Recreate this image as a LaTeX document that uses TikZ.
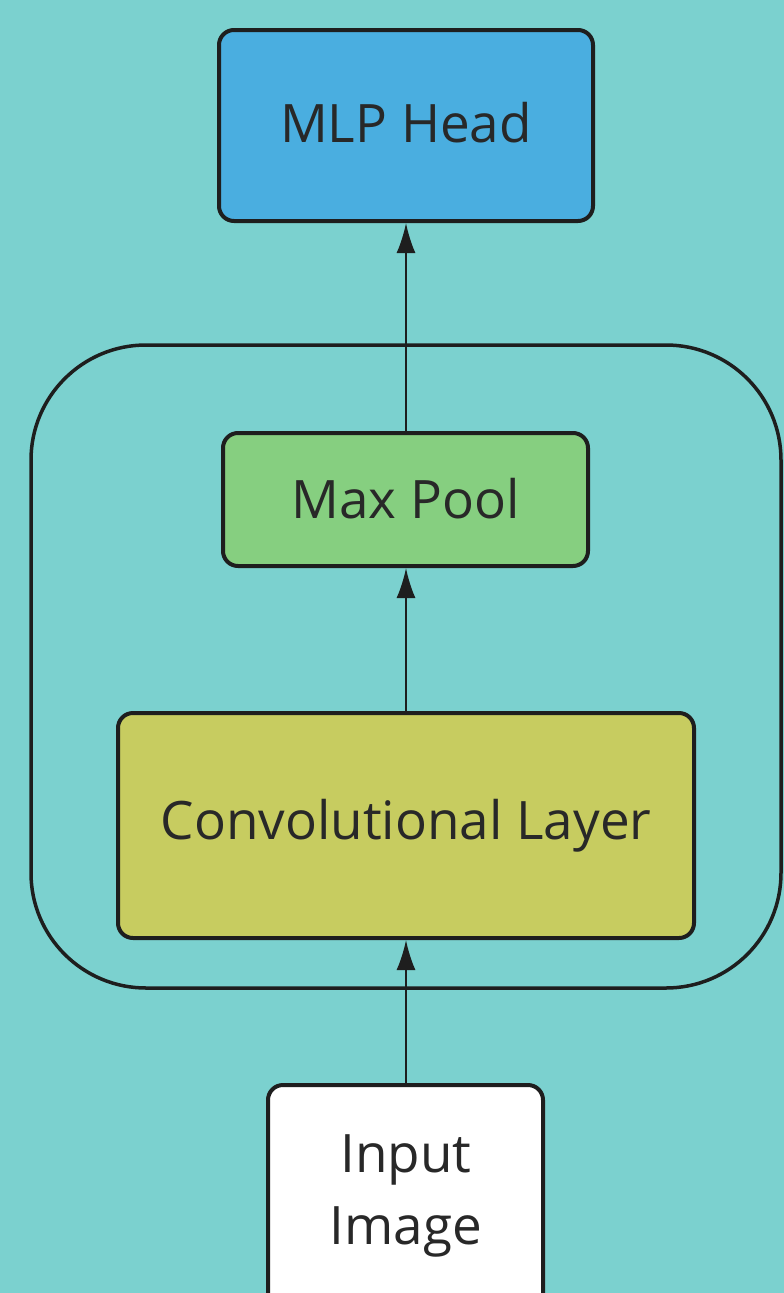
\documentclass[tikz,border=0pt]{standalone}
\usepackage{fontspec}
\setmainfont{Open Sans}
\usetikzlibrary{arrows.meta}
\definecolor{bg}{RGB}{123,209,207}
\definecolor{mlpc}{RGB}{74,174,224}
\definecolor{poolc}{RGB}{134,207,128}
\definecolor{convc}{RGB}{199,204,96}
\definecolor{edge}{RGB}{30,30,30}
\definecolor{txt}{RGB}{40,40,40}
\begin{document}
\begin{tikzpicture}[x=1pt,y=-1pt,
  blk/.style={draw=edge,line width=4pt,rounded corners=15pt},
  lbl/.style={text=txt,font=\fontsize{53}{72}\selectfont,align=center,inner sep=0pt},
  arr/.style={draw=edge,line width=2pt,-{Latex[length=30pt,width=19pt]}}]
\useasboundingbox (0,0) rectangle (784,1293);
\fill[bg] (0,0) rectangle (784,1293);
\begin{scope}
\clip (0,0) rectangle (784,1293);
\draw[edge,line width=3.5pt,rounded corners=115pt] (31,345) rectangle (781,988);
\path[blk,fill=mlpc] (219,30) rectangle (593,221);
\node[lbl] (mlp) at (406,123) {MLP Head};
\path[blk,fill=poolc] (223,433) rectangle (588,566);
\node[lbl] (pool) at (405.5,499) {Max Pool};
\path[blk,fill=convc] (118,713) rectangle (694,938);
\node[lbl] (conv) at (406,826) {Convolutional Layer};
\path[blk,fill=white] (268,1085) rectangle (543,1310);
\node[lbl] (inp) at (406,1196) {Input\\Image};
\coordinate (mlpB) at (406,223);
\coordinate (poolT) at (406,433);
\coordinate (poolB) at (406,568);
\coordinate (convT) at (406,713);
\coordinate (convB) at (406,940);
\coordinate (inpT) at (406,1085);
\draw[arr] (inpT) -- (convB);
\draw[arr] (convT) -- (poolB);
\draw[arr] (poolT) -- (mlpB);
\end{scope}
\end{tikzpicture}
\end{document}
